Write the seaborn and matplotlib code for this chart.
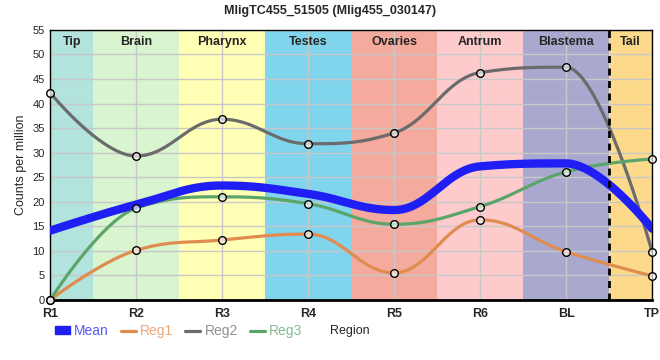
import numpy as np
import pandas as pd
import matplotlib
matplotlib.use('Agg')
import matplotlib.pyplot as plt
import seaborn as sns
from matplotlib.lines import Line2D
from matplotlib.patches import Patch

# --- data ---
regions = ["R1", "R2", "R3", "R4", "R5", "R6", "BL", "TP"]
mean_vals = [14.1, 19.4, 23.3, 21.6, 18.3, 27.2, 27.8, 14.5]
reg1_vals = [0.0, 10.1, 12.2, 13.4, 5.5, 16.3, 9.8, 4.9]
reg2_vals = [42.2, 29.3, 36.8, 31.8, 34.0, 46.3, 47.4, 9.8]
reg3_vals = [0.0, 18.7, 21.0, 19.6, 15.4, 19.0, 26.1, 28.7]

band_names = ["Tip", "Brain", "Pharynx", "Testes", "Ovaries", "Antrum", "Blastema", "Tail"]
band_colors = ["#b3e3dd", "#d8f5cf", "#ffffb5", "#80d4ec", "#f4aa9c", "#fecbcd", "#a9a9cf", "#fdda8b"]

col_mean = "#1f1ff5"
col_reg1 = "#e08c50"
col_reg2 = "#6b6b6b"
col_reg3 = "#5ba56b"


def spline_curve(y, n=40):
    # bezier spline with flat extremes (smoothing 1.5, like a charting lib "spline")
    y = np.asarray(y, dtype=float)
    x = np.arange(len(y), dtype=float)
    m = len(y)
    lcx, lcy = x.copy(), y.copy()
    rcx, rcy = x.copy(), y.copy()
    for i in range(1, m - 1):
        px, py = x[i], y[i]
        ly, ny = y[i - 1], y[i + 1]
        lx_, ly_ = (1.5 * px + x[i - 1]) / 2.5, (1.5 * py + ly) / 2.5
        rx_, ry_ = (1.5 * px + x[i + 1]) / 2.5, (1.5 * py + ny) / 2.5
        corr = (ry_ - ly_) * (rx_ - px) / (rx_ - lx_) + py - ry_
        ly_ += corr
        ry_ += corr
        if ly_ > ly and ly_ > py:
            ly_ = max(ly, py)
            ry_ = 2 * py - ly_
        elif ly_ < ly and ly_ < py:
            ly_ = min(ly, py)
            ry_ = 2 * py - ly_
        if ry_ > ny and ry_ > py:
            ry_ = max(ny, py)
            ly_ = 2 * py - ry_
        elif ry_ < ny and ry_ < py:
            ry_ = min(ny, py)
            ly_ = 2 * py - ry_
        lcx[i], lcy[i], rcx[i], rcy[i] = lx_, ly_, rx_, ry_
    xs, ys = [], []
    u = np.linspace(0, 1, n)[:, None]
    for i in range(m - 1):
        p0 = np.array([x[i], y[i]])
        c1 = np.array([rcx[i], rcy[i]])
        c2 = np.array([lcx[i + 1], lcy[i + 1]])
        p3 = np.array([x[i + 1], y[i + 1]])
        b = (1 - u)**3 * p0 + 3 * (1 - u)**2 * u * c1 + 3 * (1 - u) * u**2 * c2 + u**3 * p3
        xs.append(b[:, 0])
        ys.append(b[:, 1])
    return np.concatenate(xs), np.concatenate(ys)


sns.set_style("white")
plt.rcParams['font.family'] = ['Liberation Sans', 'DejaVu Sans']

fig = plt.figure(figsize=(6.6, 3.6), dpi=100)
ax = fig.add_axes([0.076, 0.167, 0.912, 0.75])

# region bands
for i, (name, c) in enumerate(zip(band_names, band_colors)):
    lo = max(i - 0.5, 0)
    hi = min(i + 0.5, len(regions) - 1)
    ax.axvspan(lo, hi, color=c, lw=0, zorder=0)
    ax.text((lo + hi) / 2, 53.8, name, ha='center', va='top', fontsize=9, fontweight='bold', zorder=6)

for v in range(0, 56, 5):
    ax.axhline(v, color='#c8c8c8', lw=1, zorder=1)
for i in range(len(regions)):
    ax.axvline(i, color='#c8c8c8', lw=1, zorder=1)

ax.axvline(6.5, color='black', lw=2, ls=(0, (2.5, 2)), zorder=5)

series = [("Reg2", reg2_vals, col_reg2), ("Reg1", reg1_vals, col_reg1), ("Reg3", reg3_vals, col_reg3)]
for name, vals, c in series:
    cx, cy = spline_curve(vals)
    sns.lineplot(x=cx, y=cy, ax=ax, color=c, lw=2.3, zorder=3, sort=False, estimator=None)

mx, my = spline_curve(mean_vals)
sns.lineplot(x=mx, y=my, ax=ax, color=col_mean, lw=6, zorder=4, sort=False, estimator=None)

pts = pd.DataFrame({
    "x": list(range(len(regions))) * 3,
    "y": reg1_vals + reg2_vals + reg3_vals,
})
sns.scatterplot(data=pts, x="x", y="y", ax=ax, s=30, facecolor=(1, 1, 1, 0.65), edgecolor='black',
                linewidth=1, zorder=7, clip_on=False)

ax.set_xlim(0, len(regions) - 1)
ax.set_ylim(0, 55)
ax.set_xticks(range(len(regions)))
ax.set_xticklabels(regions, fontweight='bold', fontsize=9)
ax.set_yticks(range(0, 56, 5))
ax.tick_params(axis='y', labelsize=8, length=3, width=1, color='black', pad=1)
ax.tick_params(axis='x', length=4, width=1, color='black', pad=2)
ax.set_xlabel("")
ax.set_ylabel("Counts per million", fontsize=9, labelpad=4)
for sp in ax.spines.values():
    sp.set_color('black')
    sp.set_linewidth(1)
ax.spines['bottom'].set_linewidth(2)

fig.suptitle("MligTC455_51505 (Mlig455_030147)", fontsize=9, fontweight='bold', y=0.985)

handles = [
    Patch(color=col_mean, label="Mean"),
    Line2D([], [], color=col_reg1, lw=2.3, label="Reg1"),
    Line2D([], [], color=col_reg2, lw=2.3, label="Reg2"),
    Line2D([], [], color=col_reg3, lw=2.3, label="Reg3"),
]
leg = fig.legend(handles=handles, loc='center left', bbox_to_anchor=(0.083, 0.08), ncol=4,
                 frameon=False, fontsize=10, handlelength=1.1, handleheight=0.55,
                 handletextpad=0.3, columnspacing=0.85, borderpad=0, borderaxespad=0)
for txt, c in zip(leg.get_texts(), [col_mean, col_reg1, col_reg2, col_reg3]):
    txt.set_color(c)
    txt.set_alpha(0.75)
fig.text(0.5, 0.08, "Region", fontsize=9, va='center', ha='left')

fig.savefig("out.png", dpi=100)
